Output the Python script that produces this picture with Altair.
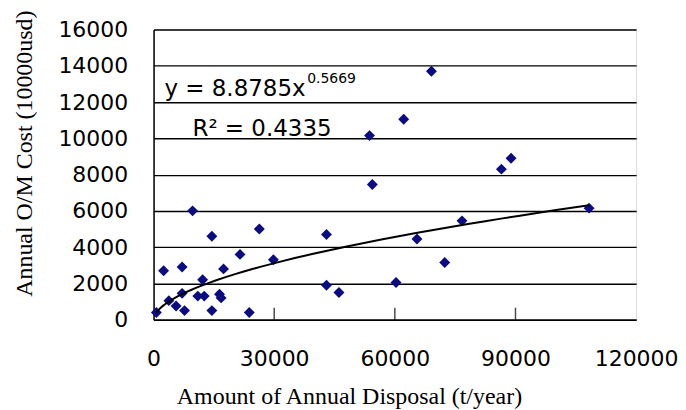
import altair as alt
import pandas as pd

# Annual disposal (t/year)
disposal = [700, 2500, 3800, 5600, 7100, 7100, 7700, 9700, 11000, 12600,
            12200, 14500, 14500, 16400, 16800, 17400, 21500, 23800, 26300, 29800,
            43000, 43000, 46100, 53700, 54400, 60300, 62200, 65500, 69100, 72400,
            76700, 86500, 88900, 108300]
# Annual O/M cost (10000 usd)
om_cost = [400, 2700, 1050, 750, 2900, 1450, 500, 6000, 1300, 1300,
           2200, 4600, 500, 1400, 1200, 2800, 3600, 400, 5000, 3300,
           4700, 1900, 1500, 10150, 7450, 2050, 11050, 4450, 13700, 3150,
           5450, 8300, 8900, 6150]

x_ticks = [0, 30000, 60000, 90000, 120000]
inner_ticks = [30000, 60000, 90000]
y_ticks = [0, 2000, 4000, 6000, 8000, 10000, 12000, 14000, 16000]

df = pd.DataFrame({"x": disposal, "y": om_cost})
ticks_df = pd.DataFrame({"x": inner_ticks})

LABEL_FONT = "DejaVu Sans"
TITLE_FONT = "Liberation Serif"

xscale = alt.Scale(domain=[0, 120000], nice=False)
yscale = alt.Scale(domain=[0, 16000], nice=False)

xaxis = alt.Axis(values=x_ticks, format="d", grid=False, ticks=False, domain=True,
                 domainColor="black", domainWidth=1.5,
                 labelFont=LABEL_FONT, labelFontSize=22, labelColor="black",
                 labelPadding=29, labelFlush=False, labelOverlap=False,
                 title="Amount of Annual Disposal (t/year)",
                 titleFont=TITLE_FONT, titleFontSize=24, titleFontWeight="normal",
                 titleColor="black", titleX=196, titleY=84,
                 titleBaseline="alphabetic", titleAlign="center")

yaxis = alt.Axis(values=y_ticks, format="d", grid=True, gridColor="black",
                 gridWidth=1.4, gridOpacity=1, ticks=False, domain=True,
                 domainColor="black", domainWidth=1.5, labelFont=LABEL_FONT,
                 labelFontSize=22, labelColor="black", labelPadding=26,
                 labelFlush=False, labelOverlap=False,
                 title="Annual O/M Cost (10000usd)", titleFont=TITLE_FONT,
                 titleFontSize=24, titleFontWeight="normal", titleColor="black",
                 titleX=-122, titleY=124, titleBaseline="alphabetic",
                 titleAlign="center", titleAngle=-90)

X = alt.X("x:Q", scale=xscale, axis=xaxis)
Y = alt.Y("y:Q", scale=yscale, axis=yaxis)

base = alt.Chart(df)

points = base.mark_point(shape="diamond", filled=True, size=120,
                         color="#0b0b82", opacity=1).encode(x=X, y=Y)

trend = base.transform_regression("x", "y", method="pow").mark_line(
    color="black", strokeWidth=2).encode(x=X, y=Y)

inner = alt.Chart(ticks_df).mark_tick(orient="vertical", size=12, thickness=1.5,
                                      color="black", yOffset=-6).encode(
    x=X,
    y=alt.datum(0, scale=yscale, axis=yaxis),
)

eq_main = alt.Chart(pd.DataFrame({"t": ["y = 8.8785x"]})).mark_text(
    font=LABEL_FONT, fontSize=23, align="left", baseline="alphabetic",
    color="black").encode(x=alt.datum(2700, scale=xscale, axis=xaxis),
                          y=alt.datum(12340, scale=yscale, axis=yaxis), text="t:N")

eq_sup = alt.Chart(pd.DataFrame({"t": ["0.5669"]})).mark_text(
    font=LABEL_FONT, fontSize=14, align="left", baseline="alphabetic",
    color="black").encode(x=alt.datum(38200, scale=xscale, axis=xaxis),
                          y=alt.datum(13070, scale=yscale, axis=yaxis), text="t:N")

r2 = alt.Chart(pd.DataFrame({"t": ["R² = 0.4335"]})).mark_text(
    font=LABEL_FONT, fontSize=23, align="left", baseline="alphabetic",
    color="black").encode(x=alt.datum(9670, scale=xscale, axis=xaxis),
                          y=alt.datum(10140, scale=yscale, axis=yaxis), text="t:N")

chart = alt.layer(points, trend, inner, eq_main, eq_sup, r2).properties(
    width=484, height=291,
    autosize=alt.AutoSizeParams(type="none"),
    padding={"left": 146, "top": 21, "right": 42, "bottom": 89},
).configure_view(stroke="black", strokeWidth=1.5).configure(background="white")

chart.save("out.html", embed_options={"renderer": "svg", "actions": False})
